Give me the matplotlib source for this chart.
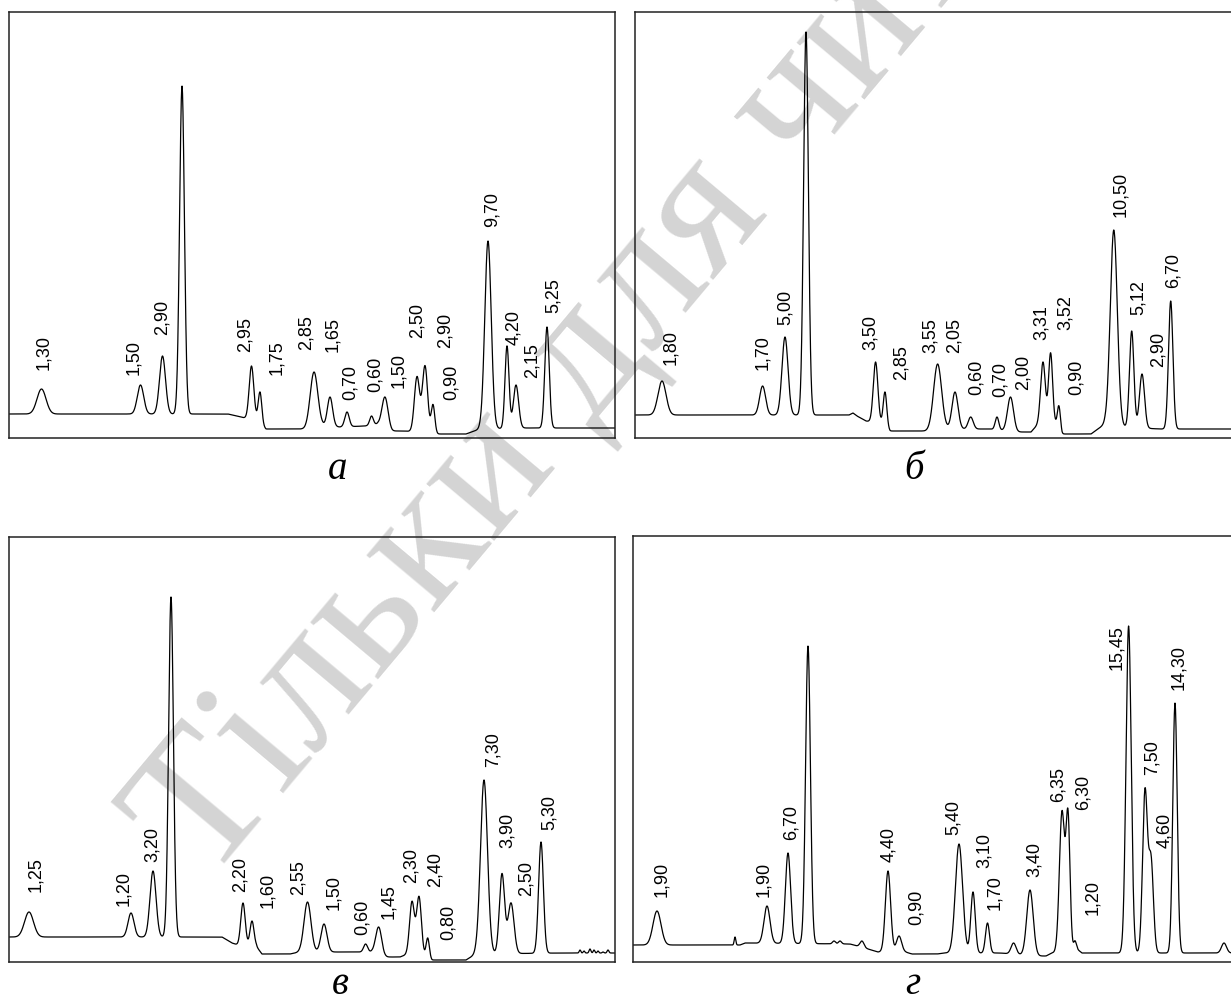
import numpy as np
import matplotlib.pyplot as plt

# всі координати - в пікселях вихідного рисунка (1231x1003)
W, H = 1231, 1003

# --- а ---
peaks_a_x = [41.5, 140.5, 162.5, 182, 251.5, 260, 314, 330, 347, 371.5, 385, 417, 425, 433, 488, 507, 516, 547]
peaks_a_top = [390, 386, 357, 87, 367, 393, 373, 398, 413, 417, 398, 378, 367, 406, 242, 347, 386, 328]
peaks_a_sig = [4.5, 3.2, 3.0, 2.4, 2.3, 1.8, 3.8, 2.6, 2.2, 1.8, 3.0, 2.6, 2.6, 1.8, 3.2, 2.0, 2.6, 2.2]
base_a_x = [9, 228, 245, 256, 266, 305, 322, 340, 365, 378, 392, 405, 436, 466, 480, 525, 615]
base_a_y = [415, 415, 419, 421, 430, 430, 427, 428, 427, 425, 432, 432, 435, 435, 430, 429, 429]
labels_a = ['1,30', '1,50', '2,90', '2,95', '1,75', '2,85', '1,65', '0,70', '0,60', '1,50',
            '2,50', '2,90', '0,90', '9,70', '4,20', '2,15', '5,25']
lab_a_x = [44, 134, 162, 245, 277, 306, 333, 350, 375, 399, 417, 445, 451, 492, 514, 532, 553]
lab_a_y = [370, 375, 335, 352, 375, 350, 352, 400, 392, 388, 338, 348, 400, 227, 345, 378, 313]

# --- б ---
peaks_b_x = [662, 762.6, 785, 806, 875.6, 885, 937.6, 955, 970.7, 997, 1010.5, 1043, 1050.6, 1059,
             1113.8, 1131.7, 1142, 1170.7]
peaks_b_top = [382, 387, 338, 33, 363, 393, 365, 393, 418, 418, 398, 363, 354, 407, 231, 332, 375, 302]
peaks_b_sig = [4.0, 3.0, 3.0, 2.4, 2.3, 1.8, 4.0, 3.0, 2.5, 1.8, 3.0, 2.3, 2.0, 1.5, 3.5, 2.2, 2.5, 2.2]
base_b_x = [635, 849, 853, 857, 866, 872, 881, 890, 925, 945, 965, 990, 1017, 1031, 1040, 1058, 1062,
            1091, 1105, 1120, 1160, 1233]
base_b_y = [416, 416, 414, 417, 422, 423, 425, 432, 432, 430, 430, 430, 433, 433, 423, 425, 435,
            435, 425, 428, 430, 430]
labels_b = ['1,80', '1,70', '5,00', '3,50', '2,85', '3,55', '2,05', '0,60', '0,70', '2,00', '3,31',
            '3,52', '0,90', '10,50', '5,12', '2,90', '6,70']
lab_b_x = [670.7, 763, 785.6, 870.6, 901, 930, 954, 976.6, 1000, 1023, 1041, 1065, 1076, 1121, 1138, 1158, 1173]
lab_b_y = [365, 370, 325, 350, 380, 353, 353, 395, 397, 390, 340, 330, 395, 217, 315, 367, 288]

# --- в ---
peaks_c_x = [29, 131, 153, 171, 243, 252, 307.5, 324, 365.6, 378.7, 412, 419, 427.7, 484, 502, 511, 541,
             580, 584, 590, 594, 598, 603, 608]
peaks_c_top = [913, 914, 872, 598, 904, 922, 903, 925, 945, 928, 903, 898, 939, 781, 875, 904, 843,
               951, 952, 950, 951, 952, 953, 951]
peaks_c_sig = [4.5, 3.0, 3.0, 2.4, 2.2, 2.0, 3.5, 3.0, 2.0, 3.0, 2.4, 2.4, 1.6, 3.5, 2.6, 3.0, 2.4,
               0.8, 0.8, 0.9, 0.8, 0.8, 0.8, 0.9]
base_c_x = [9, 222, 232, 238, 256, 262, 290, 300, 350, 372, 384, 400, 408, 428, 432, 466, 476, 560, 615]
base_c_y = [938, 938, 944, 946, 947, 955, 955, 953, 953, 953, 958, 958, 955, 958, 961, 961, 955, 954, 954]
labels_c = ['1,25', '1,20', '3,20', '2,20', '1,60', '2,55', '1,50', '0,60', '1,45', '2,30', '2,40',
            '0,80', '7,30', '3,90', '2,50', '5,30']
lab_c_x = [35.6, 124, 152, 240, 267.6, 298, 334, 362, 389, 411, 435, 448, 493, 507, 526, 549]
lab_c_y = [892, 906, 862, 892, 908, 895, 910, 935, 919, 883, 887, 940, 767, 848, 896, 830]

# --- г ---
peaks_d_x = [657, 735, 767, 788, 808, 834, 840, 862, 888, 899, 959, 973, 987.5, 1013.6, 1030, 1062,
             1068, 1075, 1128.6, 1145, 1151, 1175, 1224]
peaks_d_top = [912, 938, 907, 854, 647, 942, 942, 942, 872, 937, 845, 893, 924, 944, 891, 813,
               820, 942, 627, 793, 862, 704, 944]
peaks_d_sig = [4.0, 0.8, 3.0, 2.6, 2.4, 1.5, 1.5, 2.0, 2.6, 2.5, 3.6, 2.2, 2.0, 2.5, 3.2, 2.6,
               2.0, 1.3, 2.6, 2.4, 2.4, 2.2, 2.5]
base_d_x = [633, 740, 745, 850, 868, 878, 902, 912, 937, 945, 1000, 1036, 1046, 1052, 1077, 1082, 1233]
base_d_y = [946, 946, 944, 945, 950, 953, 952, 955, 955, 954, 954, 957, 957, 954, 950, 954, 954]
labels_d = ['1,90', '1,90', '6,70', '4,40', '0,90', '5,40', '3,10', '1,70', '3,40', '6,35', '6,30',
            '1,20', '15,45', '7,50', '4,60', '14,30']
lab_d_x = [662, 764, 791.5, 889, 916, 953, 984, 995, 1034, 1058, 1083, 1093, 1116.5, 1152, 1165, 1178.5]
lab_d_y = [897, 897, 840, 862, 925, 835, 868, 910, 877, 802, 810, 915, 670, 775, 848, 690]

panels = [
    # рамка (ліво, верх, право, низ), літера, її положення (центр, низ)
    ((9, 13, 615, 439), 'а', (338, 488),
     peaks_a_x, peaks_a_top, peaks_a_sig, base_a_x, base_a_y, labels_a, lab_a_x, lab_a_y),
    ((634.5, 13, 1233, 439), 'б', (914, 488),
     peaks_b_x, peaks_b_top, peaks_b_sig, base_b_x, base_b_y, labels_b, lab_b_x, lab_b_y),
    ((9, 538, 615, 963), 'в', (340, 1003),
     peaks_c_x, peaks_c_top, peaks_c_sig, base_c_x, base_c_y, labels_c, lab_c_x, lab_c_y),
    ((633, 537, 1233, 963), 'г', (913, 1003),
     peaks_d_x, peaks_d_top, peaks_d_sig, base_d_x, base_d_y, labels_d, lab_d_x, lab_d_y),
]

fig = plt.figure(figsize=(W / 100, H / 100), dpi=100)

# водяний знак
fig.text(205 / W, 1 - 885 / H, 'Тільки для читання', rotation=50, rotation_mode='anchor',
         ha='left', va='baseline', fontsize=138, color='#d4d4d4',
         family='Liberation Serif', zorder=-1)

for box, letter, lpos, px, ptop, psig, bx, by, labs, lx, ly in panels:
    l, t, r, b = box
    ax = fig.add_axes([l / W, 1 - b / H, (r - l) / W, (b - t) / H])
    ax.patch.set_alpha(0)
    x = np.linspace(l, r, 4000)
    base = np.interp(x, bx, by)
    y = base.copy()
    for xc, top, s in zip(px, ptop, psig):
        h = np.interp(xc, bx, by) - top
        y -= h * np.exp(-(x - xc) ** 2 / (2 * s ** 2))
    ax.plot(x, y, color='black', lw=0.9)
    for s, xt, yt in zip(labs, lx, ly):
        ax.text(xt, yt, s, rotation=90, ha='center', va='bottom', fontsize=13,
                family='Liberation Sans')
    ax.set_xlim(l, r)
    ax.set_ylim(b, t)
    ax.set_xticks([])
    ax.set_yticks([])
    for sp in ax.spines.values():
        sp.set_linewidth(1.1)
        sp.set_color('#222222')
    fig.text(lpos[0] / W, 1 - lpos[1] / H, letter, ha='center', va='bottom', fontsize=28,
             family='Liberation Serif', style='italic')

fig.savefig('out.png', dpi=100)
